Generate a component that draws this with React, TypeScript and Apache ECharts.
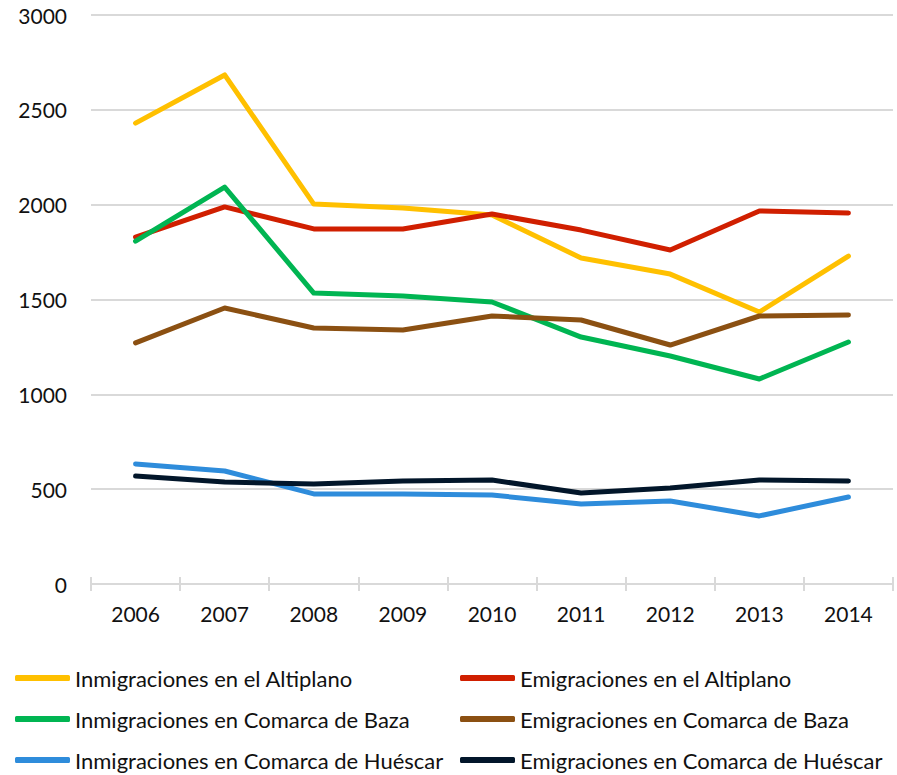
import React, { useEffect, useRef } from "react";
import * as echarts from "echarts";

const years = ["2006", "2007", "2008", "2009", "2010", "2011", "2012", "2013", "2014"];
const inmAltiplano = [2430, 2684, 2003, 1982, 1945, 1719, 1634, 1434, 1729];
const emiAltiplano = [1829, 1988, 1872, 1872, 1951, 1866, 1761, 1967, 1956];
const inmBaza = [1808, 2093, 1534, 1518, 1487, 1302, 1202, 1081, 1276];
const emiBaza = [1271, 1455, 1350, 1339, 1413, 1392, 1260, 1413, 1418];
const inmHuescar = [633, 596, 475, 475, 469, 422, 438, 359, 459];
const emiHuescar = [569, 538, 527, 543, 548, 480, 506, 548, 543];

const names = [
  "Inmigraciones en el Altiplano",
  "Emigraciones en el Altiplano",
  "Inmigraciones en Comarca de Baza",
  "Emigraciones en Comarca de Baza",
  "Inmigraciones en Comarca de Huéscar",
  "Emigraciones en Comarca de Huéscar",
];
const colors = ["#FFC000", "#D01F00", "#00B552", "#8B5012", "#2E8CDB", "#02162A"];
const seriesData = [inmAltiplano, emiAltiplano, inmBaza, emiBaza, inmHuescar, emiHuescar];

const FONT = "Lato";

export default function App() {
  const ref = useRef<HTMLDivElement>(null);
  useEffect(() => {
    if (!ref.current) return;
    const chart = echarts.init(ref.current, undefined, { renderer: "svg" });
    const legendCommon = {
      orient: "vertical" as const,
      top: 667,
      height: 120,
      icon: "roundRect",
      itemWidth: 55,
      itemHeight: 6,
      itemGap: 19,
      padding: 0,
      textStyle: { fontFamily: FONT, fontSize: 22, color: "#111" },
    };
    chart.setOption({
      animation: false,
      backgroundColor: "#fff",
      color: colors,
      grid: { left: 91, right: 4, top: 15, bottom: 191, containLabel: false },
      legend: [
        { ...legendCommon, left: 15, data: [names[0], names[2], names[4]] },
        { ...legendCommon, left: 460, data: [names[1], names[3], names[5]] },
      ],
      xAxis: [
        {
          type: "category",
          data: years,
          boundaryGap: true,
          axisLine: { show: true, lineStyle: { color: "#d9d9d9", width: 2 } },
          axisTick: { show: true, length: 7, lineStyle: { color: "#d9d9d9", width: 2 } },
          axisLabel: { fontFamily: FONT, fontSize: 21, color: "#111", margin: 19 },
          splitLine: { show: false },
        },
        {
          type: "category",
          data: years,
          position: "bottom",
          boundaryGap: true,
          axisLine: { show: false },
          axisTick: { show: true, inside: true, length: 7, lineStyle: { color: "#d9d9d9", width: 2 } },
          axisLabel: { show: false },
          splitLine: { show: false },
        },
      ],
      yAxis: {
        type: "value",
        min: 0,
        max: 3000,
        interval: 500,
        axisLine: { show: false },
        axisTick: { show: false },
        axisLabel: { fontFamily: FONT, fontSize: 21, color: "#111", margin: 24, formatter: (v: number) => String(v) },
        splitLine: { lineStyle: { color: "#d9d9d9", width: 2 } },
      },
      series: names.map((n, i) => ({
        name: n,
        type: "line",
        data: seriesData[i],
        symbol: "none",
        lineStyle: { width: 5, color: colors[i], cap: "round", join: "round" },
        itemStyle: { color: colors[i] },
      })),
    });
    return () => chart.dispose();
  }, []);
  return <div ref={ref} style={{ width: 897, height: 775, position: "absolute", left: 0, top: 0 }} />;
}
